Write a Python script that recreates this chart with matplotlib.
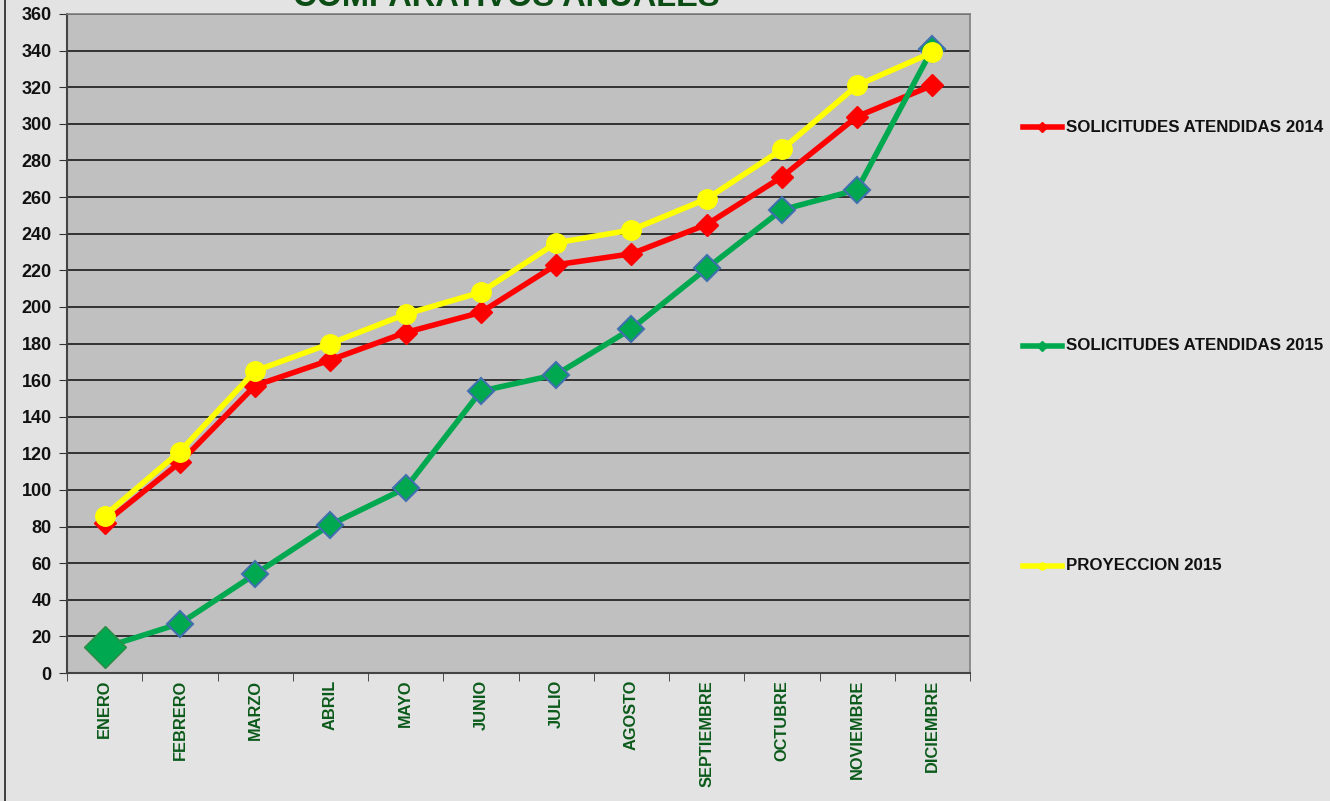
import matplotlib
matplotlib.use("Agg")
import matplotlib.pyplot as plt
from matplotlib.lines import Line2D
import numpy as np

meses = ["ENERO", "FEBRERO", "MARZO", "ABRIL", "MAYO", "JUNIO", "JULIO",
         "AGOSTO", "SEPTIEMBRE", "OCTUBRE", "NOVIEMBRE", "DICIEMBRE"]
atendidas_2014 = [82, 115, 157, 171, 186, 197, 223, 229, 245, 271, 304, 321]
atendidas_2015 = [14, 27, 54, 81, 101, 154, 163, 188, 221, 253, 264, 341]
proyeccion_2015 = [86, 121, 165, 180, 196, 208, 235, 242, 259, 286, 321, 339]
y_ticks = list(range(0, 361, 20))
titulo = "COMPARATIVOS ANUALES"
etiquetas = ["SOLICITUDES ATENDIDAS 2014", "SOLICITUDES ATENDIDAS 2015", "PROYECCION 2015"]

plt.rcParams['font.family'] = ['Liberation Sans', 'DejaVu Sans']

fig = plt.figure(figsize=(13.3, 8.01), dpi=100, facecolor='#e3e3e3')
W, H = 1330, 801
ax = fig.add_axes([67 / W, 1 - 673 / H, (970 - 67) / W, (673 - 14) / H])
ax.set_facecolor('#c0c0c0')

x = np.arange(len(meses))
red_c, green_c, yel_c = '#ff0000', '#00a84f', '#ffff00'
ax.plot(x, atendidas_2014, color=red_c, lw=4, marker='D', ms=11,
        mfc=red_c, mec=red_c, zorder=3)
ax.plot(x, atendidas_2015, color=green_c, lw=4, marker='D', ms=13,
        mfc=green_c, mec='#3f6fae', mew=1.5, zorder=4)
ax.plot(x[:1], atendidas_2015[:1], ls='none', marker='D', ms=21,
        mfc=green_c, mec='#2e8b45', mew=1, zorder=4)
ax.plot(x, proyeccion_2015, color=yel_c, lw=4, marker='o', ms=14,
        mfc=yel_c, mec=yel_c, zorder=5)

ax.set_xlim(-0.5, len(meses) - 0.5)
ax.set_ylim(0, 360)
ax.set_yticks(y_ticks)
ax.set_yticklabels([str(v) for v in y_ticks], fontsize=13, fontweight='bold', color='#111111')
ax.yaxis.grid(True, color='#1a1a1a', lw=1.2)
ax.set_axisbelow(True)
ax.set_xticks(x)
ax.set_xticklabels(meses, rotation=90, fontsize=11.8, fontweight='bold',
                   color='#0b5a1a', va='top')
ax.set_xticks(np.arange(-0.5, len(meses), 1), minor=True)
ax.tick_params(axis='x', which='major', length=0, pad=5)
ax.tick_params(axis='x', which='minor', length=6, color='#333333', direction='out')
ax.tick_params(axis='y', length=6, color='#333333', direction='out', pad=5)
for s in ['top', 'right']:
    ax.spines[s].set_color('#808080')
    ax.spines[s].set_linewidth(1.2)
for s in ['left', 'bottom']:
    ax.spines[s].set_color('#444444')
    ax.spines[s].set_linewidth(1.5)

fig.text(506 / W, 1 + 3 / H, titulo, ha='center', va='center', fontsize=23.5,
         fontweight='bold', color='#0b4d14')

# legend (manual placement, spaced like the reference)
leg_y = [127, 346, 566]
leg_colors = [red_c, green_c, yel_c]
leg_markers = ['D', 'D', 'o']
for yy, col, mk, lab in zip(leg_y, leg_colors, leg_markers, etiquetas):
    fy = 1 - yy / H
    fig.add_artist(Line2D([1023 / W, 1062 / W], [fy, fy], color=col, lw=4,
                          transform=fig.transFigure))
    fig.add_artist(Line2D([1042 / W], [fy], color=col, marker=mk, ms=5,
                          transform=fig.transFigure))
    fig.text(1066 / W, fy, lab, ha='left', va='center', fontsize=12.2,
             fontweight='bold', color='#111111')

fig.add_artist(Line2D([5 / W, 5 / W], [0, 1], color='#222222', lw=1.2,
                      transform=fig.transFigure))

fig.savefig('out.png', dpi=100, facecolor=fig.get_facecolor())
